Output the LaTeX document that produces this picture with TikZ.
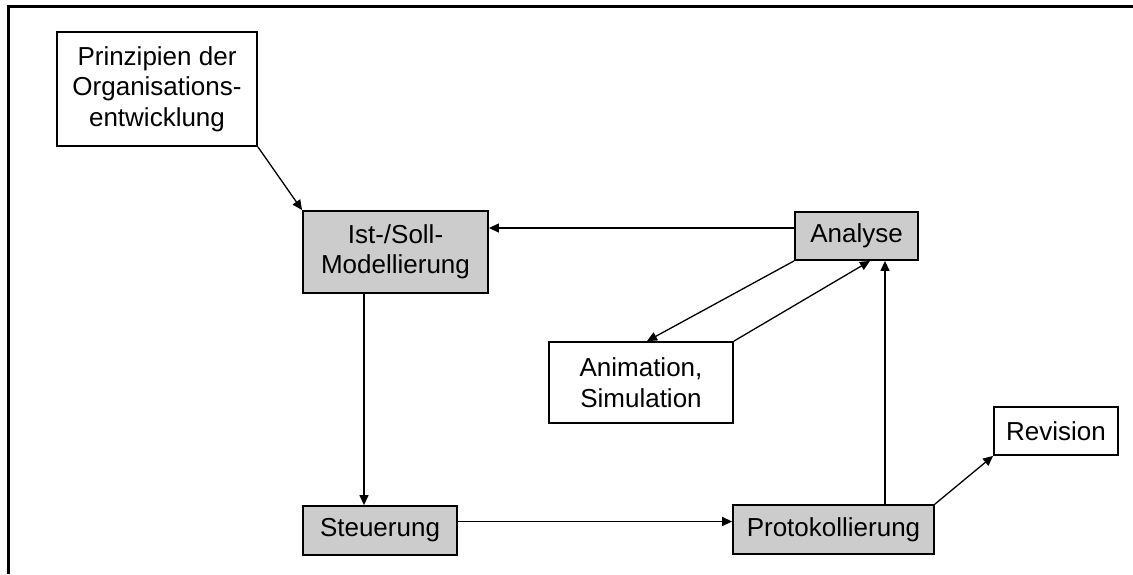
\documentclass[tikz,border=0pt]{standalone}
\usepackage{fontspec}
\setmainfont{Liberation Sans}
\usetikzlibrary{arrows.meta}
\definecolor{boxgray}{RGB}{204,204,204}
\tikzset{
  box/.style={draw=black, line width=1.8pt, rectangle, inner sep=0pt, align=center,
    font=\fontsize{26}{30.5}\selectfont},
  graybox/.style={box, fill=boxgray},
  whitebox/.style={box, fill=white},
  arr/.style={line width=1.3pt, -{Triangle[length=10pt,width=9pt]}},
  frame/.style={line width=2.6pt}
}
\begin{document}
\begin{tikzpicture}[x=1pt,y=-1pt]
\useasboundingbox (0,0) rectangle (1133,574);
\fill[white] (0,0) rectangle (1133,574);
% frame
\draw[frame] (8.5,574) -- (8.5,6.5) -- (1133,6.5);
% nodes
\node[whitebox, minimum width=200pt, minimum height=114pt] (prin) at (157,89) {Prinzipien der\\Organisations-\\entwicklung};
\node[graybox, minimum width=185pt, minimum height=82pt] (ist) at (395.5,252) {Ist-/Soll-\\Modellierung};
\node[graybox, minimum width=154pt, minimum height=49pt] (steu) at (380,530.5) {Steuerung};
\node[graybox, minimum width=123pt, minimum height=48pt] (ana) at (856.5,236) {Analyse};
\node[whitebox, minimum width=184pt, minimum height=81pt] (anim) at (641,382.5) {Animation,\\Simulation};
\node[graybox, minimum width=201pt, minimum height=49pt] (prot) at (833.5,529.5) {Protokollierung};
\node[whitebox, minimum width=124pt, minimum height=48pt] (rev) at (1056,431) {Revision};
% connectors
\draw[arr] (prin.south east) -- (ist.north west);
\draw[arr] ([yshift=8pt]ana.west) -- ([yshift=8pt]ana.west -| ist.east);
\draw[arr] ([xshift=-31.5pt]ist.south) -- ([xshift=-31.5pt]ist.south |- steu.north);
\draw[arr] ([yshift=9pt]steu.east) -- ([yshift=9pt]steu.east -| prot.west);
\draw[arr] (ana.south west) -- ([xshift=6pt]anim.north);
\draw[arr] (anim.north east) -- ([xshift=13.5pt]ana.south);
\draw[arr] ([xshift=51.5pt]prot.north) -- ([xshift=51.5pt]prot.north |- ana.south);
\draw[arr] (prot.north east) -- (rev.south west);
\end{tikzpicture}
\end{document}
